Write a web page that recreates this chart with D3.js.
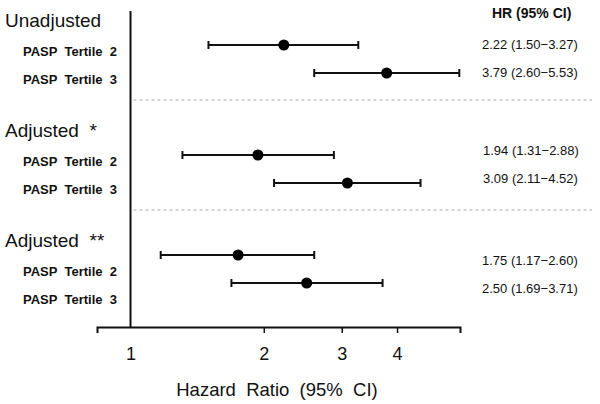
<!DOCTYPE html>
<html>
<head>
<meta charset="utf-8">
<script src="https://cdn.jsdelivr.net/npm/d3@7"></script>
<style>
  body { margin: 0; background: #fff; }
  svg { font-family: "Liberation Sans", Arial, Helvetica, sans-serif; }
  text { white-space: pre; }
</style>
</head>
<body>
<svg id="chart" width="600" height="404"></svg>
<script>
// forest plot data
const groupNames = ['Unadjusted', 'Adjusted  *', 'Adjusted  **'];
const rowNames = ['PASP Tertile 2', 'PASP Tertile 3'];
const hr = [2.22, 3.79, 1.94, 3.09, 1.75, 2.50];
const lower = [1.50, 2.60, 1.31, 2.11, 1.17, 1.69];
const upper = [3.27, 5.53, 2.88, 4.52, 2.60, 3.71];
const tickValues = [1, 2, 3, 4];

let rows = hr.map((v, i) => ({
  group: Math.floor(i / 2),
  row: i % 2,
  label: rowNames[i % 2],
  hr: v,
  lo: lower[i],
  hi: upper[i]
}));

let svg = d3.select('#chart');

let x = d3.scaleLog().domain([0.84, 5.55]).range([97, 460]);
// slot scale: group index (+ fraction for the row) -> y
let y = d3.scaleLinear().domain([0, 1]).range([45, 155]);
let rowStep = 28 / 110;
let barNudge = [0, 0, -10];   // the last block sits a little higher in the original
let textNudge = [0, -4, -4];
let fmt = d3.format('.2f');

let drawChart = () => {
  let axisY = 327;

  // dashed separators
  svg.selectAll('line.sep')
    .data([0.5, 1.5])
    .enter()
    .append('line')
    .attr('class', 'sep')
    .attr('x1', x(1) + 3)
    .attr('x2', 592)
    .attr('y1', d => y(d))
    .attr('y2', d => y(d))
    .attr('stroke', '#aaa')
    .attr('stroke-width', 1)
    .attr('stroke-dasharray', '3,3');

  // reference line at HR = 1
  svg.append('line')
    .attr('x1', x(1))
    .attr('x2', x(1))
    .attr('y1', y(0) - 34)
    .attr('y2', axisY)
    .attr('stroke', '#111')
    .attr('stroke-width', 2);

  // x axis
  let axis = svg.append('g')
    .attr('transform', `translate(0,${axisY})`)
    .call(d3.axisBottom(x)
      .tickValues(tickValues)
      .tickFormat(d3.format('d'))
      .tickSizeOuter(0)
      .tickSize(6)
      .tickPadding(14));
  axis.select('.domain').attr('stroke', '#111').attr('stroke-width', 2);
  axis.selectAll('.tick line').attr('stroke', '#111').attr('stroke-width', 1.5)
    .filter(d => d === 1).remove();
  axis.selectAll('.tick text')
    .attr('fill', '#111')
    .style('font-size', '18px')
    .style('font-family', '"Liberation Sans", Arial, sans-serif');

  svg.append('text')
    .attr('x', 277)
    .attr('y', 396)
    .attr('text-anchor', 'middle')
    .style('font-size', '18.5px')
    .attr('fill', '#111')
    .text('Hazard  Ratio  (95%  CI)');

  // group headers
  svg.selectAll('text.group')
    .data(groupNames)
    .enter()
    .append('text')
    .attr('class', 'group')
    .attr('x', 5)
    .attr('y', (d, i) => y(i) - 18)
    .style('font-size', '19px')
    .attr('fill', '#111')
    .text(d => d);

  // row labels
  svg.selectAll('text.row')
    .data(rows)
    .enter()
    .append('text')
    .attr('class', 'row')
    .attr('x', 23)
    .attr('y', d => y(d.group + d.row * rowStep) + 11)
    .style('font-size', '13px')
    .style('font-weight', 'bold')
    .attr('fill', '#111')
    .text(d => d.label.replace(/ /g, '  '));

  // CI lines
  let bars = svg.selectAll('g.bar')
    .data(rows)
    .enter()
    .append('g')
    .attr('class', 'bar')
    .attr('transform', d => `translate(0,${y(d.group + d.row * rowStep) + barNudge[d.group]})`);

  bars.append('line')
    .attr('x1', d => x(d.lo))
    .attr('x2', d => x(d.hi))
    .attr('stroke', '#111')
    .attr('stroke-width', 2);

  bars.selectAll('line.cap')
    .data(d => [d.lo, d.hi])
    .enter()
    .append('line')
    .attr('class', 'cap')
    .attr('x1', d => x(d))
    .attr('x2', d => x(d))
    .attr('y1', -4)
    .attr('y2', 4)
    .attr('stroke', '#111')
    .attr('stroke-width', 2);

  bars.append('circle')
    .attr('cx', d => x(d.hr))
    .attr('r', 5.5)
    .attr('fill', '#000');

  // HR (95% CI) column
  svg.append('text')
    .attr('x', 492)
    .attr('y', 18)
    .style('font-size', '14px')
    .style('font-weight', 'bold')
    .attr('fill', '#111')
    .text('HR (95% CI)');

  svg.selectAll('text.val')
    .data(rows)
    .enter()
    .append('text')
    .attr('class', 'val')
    .attr('x', d => d.group === 1 ? 483 : 482)
    .attr('y', d => y(d.group + d.row * rowStep) + textNudge[d.group] + 4)
    .style('font-size', '13px')
    .attr('fill', '#111')
    .text(d => `${fmt(d.hr)} (${fmt(d.lo)}\u2212${fmt(d.hi)})`);
}

drawChart();
</script>
</body>
</html>
